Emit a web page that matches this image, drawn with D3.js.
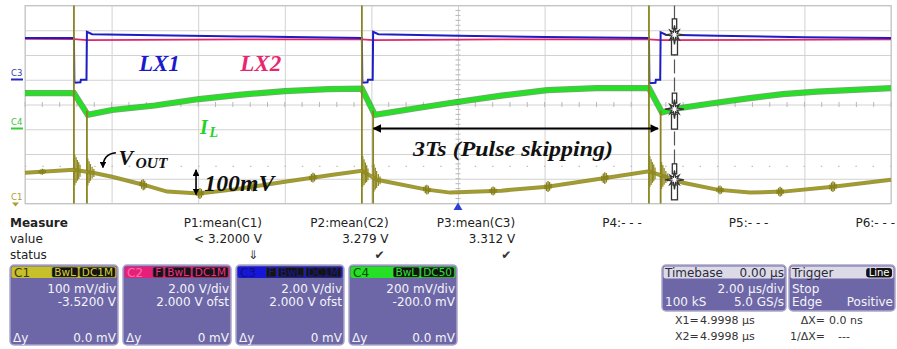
<!DOCTYPE html>
<html>
<head>
<meta charset="utf-8">
<script src="https://cdn.jsdelivr.net/npm/d3@7/dist/d3.min.js"></script>
<style>
  html, body { margin: 0; padding: 0; background: #ffffff; }
  svg { display: block; }
  .ui { font-family: "DejaVu Sans", sans-serif; font-size: 12px; }
  .note { font-family: "Liberation Serif", "Times New Roman", serif; font-weight: bold; font-style: italic; }
</style>
</head>
<body>
<svg id="scope" width="897" height="349"></svg>
<script>
// ---- Acquisition (time in µs, amplitude in screen divisions) ----
const timeTicks = [-10, -8, -6, -4, -2, 0, 2, 4, 6, 8, 10];   // 2.00 µs/div
const divTicks  = [-4, -3, -2, -1, 0, 1, 2, 3, 4];

// C3 : LX1 switching node
const lx1Trace = [
  [-10, 2.69], [-8.87, 2.69], [-8.86, 0.88], [-8.72, 0.90], [-8.71, 1.00], [-8.58, 1.00],
  [-8.57, 2.94], [-8.45, 2.84], [-7, 2.80], [-5, 2.75], [-2.22, 2.69],
  [-2.21, 0.88], [-2.09, 0.90], [-2.08, 1.00], [-1.97, 1.00], [-1.96, 2.94], [-1.84, 2.84],
  [0, 2.78], [2, 2.73], [4.41, 2.69],
  [4.42, 0.86], [4.56, 0.88], [4.57, 1.00], [4.67, 1.00], [4.68, 2.92], [4.80, 2.82],
  [6, 2.78], [8, 2.72], [10, 2.69]
];
// C2 : LX2 switching node
const lx2Trace = [
  [-10, 2.65], [-8.87, 2.64], [-8.57, 2.60], [-5, 2.63], [-2.22, 2.63], [-1.96, 2.60],
  [1, 2.63], [4.41, 2.63], [4.68, 2.60], [10, 2.63]
];
// C4 : inductor current IL
const iLTrace = [
  [-10, 0.46], [-8.87, 0.46], [-8.55, -0.42], [-7.99, -0.22], [-7.0, -0.04], [-5.98, 0.22],
  [-5.0, 0.40], [-4.0, 0.54], [-3.0, 0.62], [-2.22, 0.64], [-1.92, -0.42], [-1.0, -0.16],
  [-0.18, 0.06], [1.0, 0.36], [2.06, 0.58], [3.2, 0.66], [4.41, 0.66], [4.71, -0.32],
  [5.06, -0.16], [6.0, 0.08], [6.74, 0.26], [7.5, 0.42], [8.29, 0.52], [10, 0.66]
];
// C1 : output voltage VOUT
const vOutTrace = [
  [-10, -2.76], [-8.87, -2.64], [-8.43, -2.76], [-7.99, -2.92], [-7.27, -3.24], [-6.72, -3.52],
  [-5.98, -3.60], [-5.20, -3.44], [-4.00, -3.12], [-2.89, -2.84], [-2.22, -2.68],
  [-1.87, -3.04], [-0.72, -3.44], [-0.18, -3.56], [1.0, -3.48], [2.06, -3.32], [3.44, -2.96],
  [4.41, -2.70], [5.20, -3.16], [5.98, -3.44], [6.74, -3.56], [7.51, -3.52], [8.66, -3.32], [10, -3.04]
];
// switching edges seen as spikes on C1
const edgeFullSpikes = [-8.87, -2.22, 4.41];
const edgeLowerSpikes = [-8.57, -1.96, 4.68];
const edgeLowerTop = -0.25;
// ringing on C1 around the edges: [time µs, half amplitude div]
const vOutRinging = [
  [-8.85, 0.62], [-8.82, 0.52], [-8.79, 0.42], [-8.76, 0.34], [-8.73, 0.24], [-8.55, 0.55], [-8.52, 0.44], [-8.49, 0.34], [-8.45, 0.24], [-8.41, 0.16],
  [-2.20, 0.62], [-2.17, 0.52], [-2.14, 0.42], [-2.11, 0.34], [-2.08, 0.24], [-1.94, 0.55], [-1.91, 0.44], [-1.88, 0.34], [-1.84, 0.24], [-1.80, 0.16],
  [4.43, 0.62], [4.46, 0.52], [4.49, 0.42], [4.52, 0.34], [4.55, 0.24], [4.70, 0.55], [4.73, 0.44], [4.76, 0.34], [4.80, 0.24], [4.84, 0.16]
];
// smaller noise bursts on C1
const vOutBursts = [
  [-9.6, 0.12], [-7.27, 0.22], [-5.96, 0.22], [-4.73, 0.2], [-3.35, 0.2], [-0.72, 0.2], [0.81, 0.18],
  [2.08, 0.22], [3.39, 0.24], [6.05, 0.18], [7.44, 0.2], [8.66, 0.22]
];
const cursorX1 = 4.9998;   // µs
const triggerTime = 0;

// ---- Bottom panels ----
const measureNames  = ["P1:mean(C1)", "P2:mean(C2)", "P3:mean(C3)", "P4:- - -", "P5:- - -", "P6:- - -"];
const measureValues = ["< 3.2000 V", "3.279 V", "3.312 V", "", "", ""];
const measureStatus = ["\u21D3", "\u2714", "\u2714", "", "", ""];
const channelNames   = ["C1", "C2", "C3", "C4"];
const channelFlags   = [["BwL", "DC1M"], ["F", "BwL", "DC1M"], ["F", "BwL", "DC1M"], ["BwL", "DC50"]];
const channelScales  = ["100 mV/div", "2.00 V/div", "2.00 V/div", "200 mV/div"];
const channelOffsets = ["-3.5200 V", "2.000 V ofst", "2.000 V ofst", "-200.0 mV"];
const channelDeltaY  = ["0.0 mV", "0 mV", "0 mV", "0.0 mV"];
const timebaseRows = [["Timebase", "0.00 \u00B5s"], ["", "2.00 \u00B5s/div"], ["100 kS", "5.0 GS/s"]];
const triggerRows  = [["Trigger", ""], ["Stop", ""], ["Edge", "Positive"]];
const cursorRows = [["X1=", "4.9998 \u00B5s", "\u0394X=", "0.0 ns"], ["X2=", "4.9998 \u00B5s", "1/\u0394X=", "---"]];

// ---- Styles ----
const traceColor = { c1: "#968f1f", c2: "#e3246c", c3: "#1d1dc4", c4: "#26e026" };
const headerFill = ["#c7c02b", "#e6207a", "#1616d8", "#25e025"];
const headerText = ["#3a3610", "#ff70b0", "#10107a", "#0c4a0c"];
const flagText   = ["#d6cf3a", "#f0308a", "#1a1a90", "#30e030"];
const panelFill = "#6d67a7", panelEdge = "#aaa6cc";

const svg = d3.select("#scope");
const x = d3.scaleLinear().domain([-10, 10]).range([25, 891]);
const y = d3.scaleLinear().domain([-4, 4]).range([203.5, 5.5]);

// ---- Graticule ----
const grid = svg.append("g");
grid.append("g")
  .attr("transform", `translate(0,${y(-4)})`)
  .call(d3.axisBottom(x).tickValues(timeTicks).tickSize(y(-4) - y(4)).tickFormat(""))
  .call(g => g.select(".domain").remove())
  .call(g => g.selectAll("line").attr("stroke", "#d2d2d2").attr("transform", `translate(0,${-(y(-4) - y(4))})`));
grid.append("g")
  .attr("transform", `translate(${x(-10)},0)`)
  .call(d3.axisRight(y).tickValues(divTicks).tickSize(x(10) - x(-10)).tickFormat(""))
  .call(g => g.select(".domain").remove())
  .call(g => g.selectAll("line").attr("stroke", "#d2d2d2"));
// minor ticks on the centre lines
grid.append("g").selectAll("line").data(d3.range(-10, 10.01, 0.4)).join("line")
  .attr("x1", d => x(d)).attr("x2", d => x(d))
  .attr("y1", y(0) - 2.5).attr("y2", y(0) + 2.5).attr("stroke", "#b8b8b8");
grid.append("g").selectAll("line").data(d3.range(-4, 4.01, 0.2)).join("line")
  .attr("x1", x(0) - 2.5).attr("x2", x(0) + 2.5)
  .attr("y1", d => y(d)).attr("y2", d => y(d)).attr("stroke", "#b8b8b8");
// dotted level line
grid.append("line")
  .attr("x1", x(-10)).attr("x2", x(10)).attr("y1", y(-2.5)).attr("y2", y(-2.5))
  .attr("stroke", "#bdbdbd").attr("stroke-width", 1.4).attr("stroke-dasharray", "1.4,15.9");
grid.append("rect")
  .attr("x", x(-10)).attr("y", y(4)).attr("width", x(10) - x(-10)).attr("height", y(-4) - y(4))
  .attr("fill", "none").attr("stroke", "#c4c4c4");

// ---- Traces ----
const line = d3.line().x(d => x(d[0])).y(d => y(d[1]));
const traces = svg.append("g").attr("fill", "none").attr("stroke-linejoin", "miter");

traces.append("path").datum(lx2Trace).attr("d", line)
  .attr("stroke", traceColor.c2).attr("stroke-width", 1.8);
traces.append("path").datum(lx1Trace).attr("d", line)
  .attr("stroke", traceColor.c3).attr("stroke-width", 2);

traces.append("path").datum(iLTrace).attr("d", line)
  .attr("stroke", "#2f8a2a").attr("stroke-width", 6.2).attr("stroke-opacity", 0.7);
traces.append("path").datum(iLTrace).attr("d", line)
  .attr("stroke", traceColor.c4).attr("stroke-width", 4.2);

const valueAt = (series, t) => {
  const i = d3.bisector(d => d[0]).left(series, t);
  if (i <= 0) return series[0][1];
  if (i >= series.length) return series[series.length - 1][1];
  const a = series[i - 1], b = series[i];
  return a[1] + (b[1] - a[1]) * (t - a[0]) / (b[0] - a[0]);
};

traces.append("g").selectAll("line").data(edgeFullSpikes).join("line")
  .attr("x1", d => x(d)).attr("x2", d => x(d)).attr("y1", y(4)).attr("y2", y(-4))
  .attr("stroke", "#8a8420").attr("stroke-width", 1.8);
traces.append("g").selectAll("line").data(edgeLowerSpikes).join("line")
  .attr("x1", d => x(d)).attr("x2", d => x(d)).attr("y1", y(edgeLowerTop)).attr("y2", y(-4))
  .attr("stroke", "#8a8420").attr("stroke-width", 1.8);

traces.append("path").datum(vOutTrace).attr("d", line)
  .attr("stroke", "#7f7a18").attr("stroke-width", 4).attr("stroke-opacity", 0.8);
traces.append("path").datum(vOutTrace).attr("d", line)
  .attr("stroke", "#a49d2a").attr("stroke-width", 2.2);

traces.append("g").selectAll("line").data(vOutRinging).join("line")
  .attr("x1", d => x(d[0])).attr("x2", d => x(d[0]))
  .attr("y1", d => y(valueAt(vOutTrace, d[0]) + d[1]))
  .attr("y2", d => y(valueAt(vOutTrace, d[0]) - d[1]))
  .attr("stroke", "#8f8920").attr("stroke-width", 1.3);
// each burst drawn as a short cluster of thin strokes
const burstOffsets = [-0.07, -0.035, 0, 0.035, 0.07];
const burstScale = [0.45, 0.8, 1, 0.8, 0.45];
traces.append("g").selectAll("g").data(vOutBursts).join("g")
  .selectAll("line").data(d => burstOffsets.map((o, k) => [d[0] + o, d[1] * burstScale[k]])).join("line")
  .attr("x1", d => x(d[0])).attr("x2", d => x(d[0]))
  .attr("y1", d => y(valueAt(vOutTrace, d[0]) + d[1]))
  .attr("y2", d => y(valueAt(vOutTrace, d[0]) - d[1]))
  .attr("stroke", "#857f18").attr("stroke-width", 1.3);

// ---- Cursor ----
svg.append("line")
  .attr("x1", x(cursorX1)).attr("x2", x(cursorX1)).attr("y1", y(4)).attr("y2", y(-4))
  .attr("stroke", "#555").attr("stroke-width", 1.2).attr("stroke-dasharray", "14,4");
const starPath = d3.lineRadial().curve(d3.curveLinearClosed)(
  d3.range(16).map(i => [i * Math.PI / 8, i % 4 === 0 ? 9.5 : (i % 2 === 0 ? 6.5 : 2.8)]));
const markers = svg.append("g").selectAll("g")
  .data([lx1Trace, iLTrace, vOutTrace]).join("g")
  .attr("transform", d => `translate(${x(cursorX1)},${y(valueAt(d, cursorX1))})`)
  .attr("fill", "#fff").attr("stroke", "#333").attr("stroke-width", 1.3);
markers.append("rect").attr("x", -2.2).attr("y", -16).attr("width", 4.4).attr("height", 10);
markers.append("rect").attr("x", -3).attr("y", 5).attr("width", 6).attr("height", 15);
markers.append("path").attr("d", starPath);

// trigger position marker
svg.append("path")
  .attr("d", d3.symbol(d3.symbolTriangle, 34)())
  .attr("transform", `translate(${x(triggerTime)},${y(-4) + 4})`)
  .attr("fill", "#2d3fd6");

// ---- Channel ground markers ----
const gnd = svg.append("g").attr("class", "ui").style("font-size", "8.5px");
gnd.append("text").attr("x", 11).attr("y", 76).attr("fill", "#3838a8").text("C3");
gnd.append("line").attr("x1", 11).attr("x2", 23).attr("y1", 79.5).attr("y2", 79.5).attr("stroke", "#2828c0").attr("stroke-width", 2);
gnd.append("text").attr("x", 11).attr("y", 125).attr("fill", "#40c040").text("C4");
gnd.append("line").attr("x1", 11).attr("x2", 23).attr("y1", 128.5).attr("y2", 128.5).attr("stroke", "#30d030").attr("stroke-width", 2);
gnd.append("text").attr("x", 11).attr("y", 200).attr("fill", "#a8a030").text("C1");
gnd.append("path").attr("d", "M12,202.5 L19,202.5 L15.5,206.5 Z").attr("fill", "#a8a030");

// ---- Annotations ----
const defs = svg.append("defs");
defs.append("marker").attr("id", "head").attr("viewBox", "0 0 10 10")
  .attr("refX", 9).attr("refY", 5).attr("markerWidth", 4.2).attr("markerHeight", 4.2)
  .attr("orient", "auto-start-reverse")
  .append("path").attr("d", "M0,0 L10,5 L0,10 Z").attr("fill", "#000");

const notes = svg.append("g").attr("class", "note");
notes.append("text").attr("x", x(-7.37)).attr("y", y(1.35)).attr("font-size", 24)
  .attr("textLength", 41).attr("lengthAdjust", "spacingAndGlyphs").attr("fill", "#1a1acc").text("LX1");
notes.append("text").attr("x", x(-5.03)).attr("y", y(1.35)).attr("font-size", 24)
  .attr("textLength", 41).attr("lengthAdjust", "spacingAndGlyphs").attr("fill", "#e8256e").text("LX2");
notes.append("text").attr("x", x(-5.96)).attr("y", y(-1.19)).attr("font-size", 20).attr("fill", "#22d422").text("I");
notes.append("text").attr("x", x(-5.74)).attr("y", y(-1.33)).attr("font-size", 14).attr("fill", "#22d422").text("L");

notes.append("text").attr("x", x(-7.84)).attr("y", y(-2.43)).attr("font-size", 22).attr("fill", "#111").text("V");
notes.append("text").attr("x", x(-7.45)).attr("y", y(-2.58)).attr("font-size", 14)
  .attr("textLength", 32).attr("lengthAdjust", "spacingAndGlyphs").attr("fill", "#111").text("OUT");
notes.append("path")
  .attr("d", `M${x(-7.9)},${y(-1.95)} Q${x(-8.2)},${y(-2.0)} ${x(-8.2)},${y(-2.55)}`)
  .attr("fill", "none").attr("stroke", "#000").attr("stroke-width", 1.6).attr("marker-end", "url(#head)");

notes.append("line")
  .attr("x1", x(-6.05)).attr("x2", x(-6.05)).attr("y1", y(-2.64)).attr("y2", y(-3.64))
  .attr("stroke", "#000").attr("stroke-width", 1.6)
  .attr("marker-start", "url(#head)").attr("marker-end", "url(#head)");
notes.append("text").attr("x", x(-5.86)).attr("y", y(-3.5)).attr("font-size", 23)
  .attr("textLength", 70).attr("lengthAdjust", "spacingAndGlyphs").attr("fill", "#111").text("100mV");

notes.append("line")
  .attr("x1", x(-1.95)).attr("x2", x(4.62)).attr("y1", y(-0.97)).attr("y2", y(-0.97))
  .attr("stroke", "#000").attr("stroke-width", 2)
  .attr("marker-start", "url(#head)").attr("marker-end", "url(#head)");
notes.append("text").attr("x", x(-1.04)).attr("y", y(-2.07)).attr("font-size", 21)
  .attr("textLength", 200).attr("lengthAdjust", "spacingAndGlyphs").attr("fill", "#111")
  .text("3Ts (Pulse skipping)");

// ---- Measurement table ----
const ui = svg.append("g").attr("class", "ui").attr("fill", "#222");
ui.append("text").attr("x", 10).attr("y", 226.5).attr("font-weight", "bold").text("Measure");
ui.append("text").attr("x", 10).attr("y", 242.5).text("value");
ui.append("text").attr("x", 10).attr("y", 258.5).text("status");
const colRight = i => 262 + i * 126.6;
ui.append("g").selectAll("text").data(measureNames).join("text")
  .attr("x", (d, i) => colRight(i)).attr("y", 226.5).attr("text-anchor", "end").text(d => d);
ui.append("g").selectAll("text").data(measureValues).join("text")
  .attr("x", (d, i) => colRight(i)).attr("y", 242.5).attr("text-anchor", "end").text(d => d);
ui.append("g").selectAll("text").data(measureStatus).join("text")
  .attr("x", (d, i) => colRight(i) - 4).attr("y", 258.5).attr("text-anchor", "end")
  .attr("fill", "#333").text(d => d);

// ---- Channel descriptors ----
const boxes = svg.append("g").attr("class", "ui").selectAll("g").data(channelNames).join("g")
  .attr("transform", (d, i) => `translate(${10 + i * 113},265)`);
boxes.append("rect").attr("width", 108).attr("height", 80).attr("rx", 4)
  .attr("fill", panelFill).attr("stroke", panelEdge).attr("stroke-width", 1.5);
boxes.append("rect").attr("x", 1.5).attr("y", 1.5).attr("width", 105).attr("height", 11.5).attr("rx", 2)
  .attr("fill", (d, i) => headerFill[i]);
boxes.append("text").attr("x", 4).attr("y", 11.5).attr("fill", (d, i) => headerText[i]).text(d => d);
boxes.each(function (d, i) {
  const g = d3.select(this);
  let right = 105;
  channelFlags[i].slice().reverse().forEach(f => {
    const t = g.append("text").attr("y", 11).style("font-size", "10.5px").attr("fill", flagText[i]).text(f);
    const w = t.node().getComputedTextLength() + 4;
    g.insert("rect", () => t.node()).attr("x", right - w).attr("y", 2.5).attr("width", w).attr("height", 9.5)
      .attr("rx", 1.5).attr("fill", "#141414").attr("stroke", "#3a3a3a").attr("stroke-width", 0.6);
    t.attr("x", right - w + 2);
    right -= w + 2;
  });
});
const wht = "#f4f4f8";
boxes.append("text").attr("x", 106).attr("y", 28).attr("text-anchor", "end").attr("fill", wht).text((d, i) => channelScales[i]);
boxes.append("text").attr("x", 106).attr("y", 40.5).attr("text-anchor", "end").attr("fill", wht).text((d, i) => channelOffsets[i]);
boxes.append("text").attr("x", 3).attr("y", 77).attr("fill", wht).text("\u0394y");
boxes.append("text").attr("x", 106).attr("y", 77).attr("text-anchor", "end").attr("fill", wht).text((d, i) => channelDeltaY[i]);

// ---- Timebase / trigger ----
const side = svg.append("g").attr("class", "ui");
function infoBox(x0, w, rows, tag) {
  const g = side.append("g").attr("transform", `translate(${x0},265)`);
  g.append("rect").attr("width", w).attr("height", 46).attr("rx", 4)
    .attr("fill", panelFill).attr("stroke", panelEdge).attr("stroke-width", 1.5);
  g.append("rect").attr("x", 1.5).attr("y", 1.5).attr("width", w - 3).attr("height", 12).attr("rx", 2).attr("fill", "#dcdae6");
  rows.forEach((r, k) => {
    const by = 11.5 + k * 12.5 + (k > 0 ? 4 : 0);
    const col = k === 0 ? "#2a2a3a" : "#f4f4f8";
    g.append("text").attr("x", 3).attr("y", by).attr("fill", col).text(r[0]);
    g.append("text").attr("x", w - 2).attr("y", by).attr("text-anchor", "end").attr("fill", col).text(r[1]);
  });
  if (tag) {
    const t = g.append("text").attr("y", 11).style("font-size", "10px").attr("fill", "#fff").text(tag);
    const tw = t.node().getComputedTextLength() + 5;
    g.insert("rect", () => t.node()).attr("x", w - 3 - tw).attr("y", 3).attr("width", tw).attr("height", 9.5)
      .attr("rx", 3).attr("fill", "#111");
    t.attr("x", w - 3 - tw + 2.5);
  }
}
infoBox(662, 124, timebaseRows);
infoBox(789, 106, triggerRows, "Line");

const cur = side.append("g").attr("fill", "#333").style("font-size", "11px");
cursorRows.forEach((r, k) => {
  const by = 324 + k * 16;
  cur.append("text").attr("x", 675).attr("y", by).text(r[0]);
  cur.append("text").attr("x", 700).attr("y", by).text(r[1]);
  cur.append("text").attr("x", 825).attr("y", by).attr("text-anchor", "end").text(r[2]);
  cur.append("text").attr("x", k === 0 ? 829 : 838).attr("y", by).text(r[3]);
});
</script>
</body>
</html>
